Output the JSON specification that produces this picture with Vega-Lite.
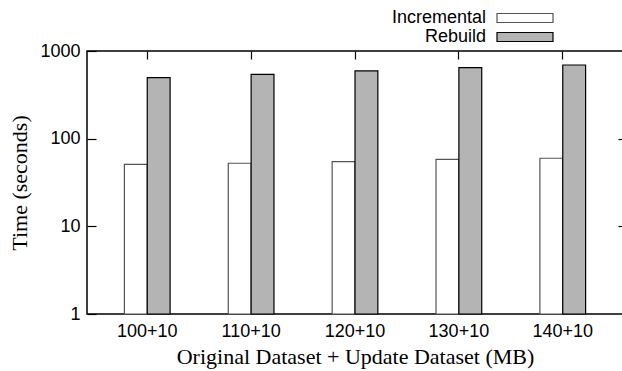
{
  "$schema": "https://vega.github.io/schema/vega-lite/v6.json",
  "width": 536,
  "height": 263,
  "autosize": "none",
  "padding": {"left": 87, "top": 51, "right": 0, "bottom": 57},
  "background": "white",
  "config": {
    "view": {"stroke": "black", "strokeWidth": 1.5},
    "axis": {
      "domain": false,
      "grid": false,
      "tickColor": "black",
      "tickWidth": 1.2,
      "labelColor": "black",
      "labelFont": "Liberation Sans",
      "labelFontSize": 18,
      "titleFont": "Liberation Serif",
      "titleFontSize": 22,
      "titleFontWeight": "normal",
      "titleColor": "black"
    }
  },
  "data": {
    "values": [
      {"dataset": "100+10", "method": "Incremental", "time": 51},
      {"dataset": "100+10", "method": "Rebuild", "time": 497},
      {"dataset": "110+10", "method": "Incremental", "time": 52.4},
      {"dataset": "110+10", "method": "Rebuild", "time": 542},
      {"dataset": "120+10", "method": "Incremental", "time": 54.7},
      {"dataset": "120+10", "method": "Rebuild", "time": 592},
      {"dataset": "130+10", "method": "Incremental", "time": 58.2},
      {"dataset": "130+10", "method": "Rebuild", "time": 645},
      {"dataset": "140+10", "method": "Incremental", "time": 59.8},
      {"dataset": "140+10", "method": "Rebuild", "time": 692}
    ]
  },
  "layer": [
    {
      "mark": {"type": "bar", "strokeWidth": 1.2},
      "encoding": {
        "x": {
          "field": "dataset", "type": "nominal", "sort": null,
          "scale": {"paddingInner": 0.56, "paddingOuter": 0.36},
          "axis": {"orient": "bottom", "ticks": false, "labelAngle": 0, "labelPadding": 8,
                   "title": "Original Dataset + Update Dataset (MB)", "titlePadding": 6}
        },
        "xOffset": {"field": "method", "type": "nominal", "sort": ["Incremental", "Rebuild"]},
        "y": {
          "field": "time", "type": "quantitative", "stack": null,
          "scale": {"type": "log", "domain": [1, 1000]},
          "axis": {"orient": "left", "values": [1, 10, 100, 1000], "format": "d", "tickSize": -9,
                   "labelPadding": 16, "title": "Time (seconds)", "titlePadding": 8}
        },
        "y2": {"datum": 1},
        "fill": {
          "field": "method", "type": "nominal",
          "scale": {"domain": ["Incremental", "Rebuild"], "range": ["white", "#b4b4b4"]},
          "legend": {
            "orient": "none", "legendX": 429, "legendY": -42, "title": null,
            "symbolType": "M-3.5,-0.56H3.5V0.56H-3.5Z", "symbolSize": 256,
            "symbolStrokeColor": "black", "symbolStrokeWidth": 1.2, "symbolOpacity": 1,
            "labelFont": "Liberation Sans", "labelFontSize": 18, "labelColor": "black",
            "labelAlign": "right", "labelOffset": -48, "rowPadding": 1, "padding": 0
          }
        },
        "stroke": {
          "field": "method", "type": "nominal",
          "scale": {"domain": ["Incremental", "Rebuild"], "range": ["#555555", "black"]},
          "legend": null
        }
      }
    },
    {
      "mark": {"type": "bar", "opacity": 0},
      "encoding": {
        "x": {
          "field": "dataset", "type": "nominal", "sort": null,
          "axis": {"orient": "top", "labels": false, "tickSize": -8, "title": null}
        },
        "xOffset": {"field": "method", "type": "nominal", "sort": ["Incremental", "Rebuild"]},
        "y": {
          "field": "time", "type": "quantitative", "stack": null,
          "axis": {"orient": "right", "values": [10, 100], "labels": false, "tickSize": -5, "title": null}
        },
        "y2": {"datum": 1}
      }
    }
  ],
  "resolve": {"axis": {"x": "independent", "y": "independent"}}
}
